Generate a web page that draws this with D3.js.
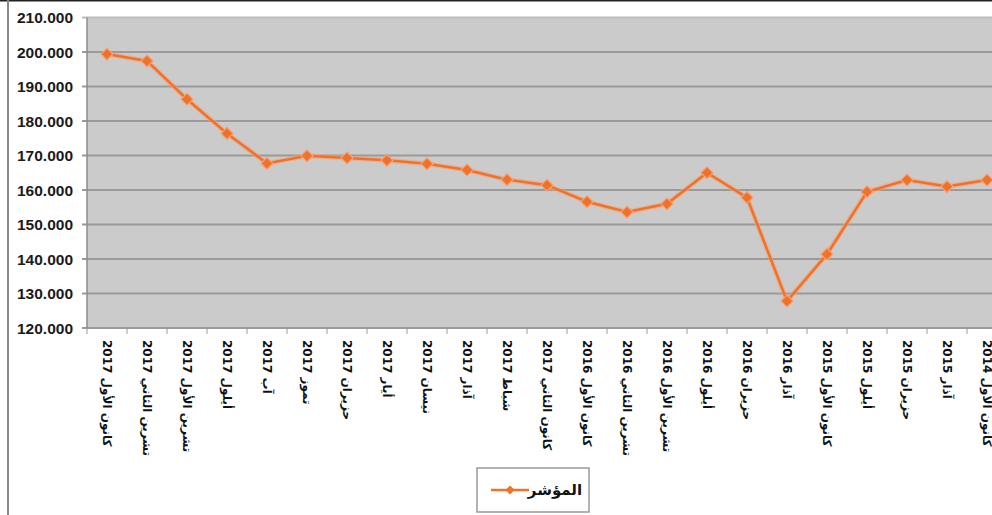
<!DOCTYPE html>
<html>
<head>
<meta charset="utf-8">
<script src="https://cdn.jsdelivr.net/npm/d3@7"></script>
<style>
  body { margin: 0; background: #fff; }
  svg { display: block; }
</style>
</head>
<body>
<svg id="chart" width="992" height="515"></svg>
<script>
// categories, newest first as in the original sheet
const months = [
  "كانون الأول 2017", "تشرين الثاني 2017", "تشرين الأول 2017", "أيلول 2017",
  "آب 2017", "تموز 2017", "حزيران 2017", "أيار 2017", "نيسان 2017",
  "آذار 2017", "شباط 2017", "كانون الثاني 2017", "كانون الأول 2016",
  "تشرين الثاني 2016", "تشرين الأول 2016", "أيلول 2016", "حزيران 2016",
  "آذار 2016", "كانون الأول 2015", "أيلول 2015", "حزيران 2015",
  "آذار 2015", "كانون الأول 2014"
];
const indexValues = [
  199.4, 197.4, 186.3, 176.4, 167.7, 169.9, 169.3, 168.6, 167.6,
  165.8, 163.0, 161.4, 156.6, 153.6, 156.0, 165.0, 157.8,
  127.8, 141.4, 159.5, 162.9, 161.0, 162.9
];
const yTicks = [120, 130, 140, 150, 160, 170, 180, 190, 200, 210];
const seriesName = "المؤشر";

const svg = d3.select("#chart");
const orange = "#f07229";

const x = d3.scaleBand().domain(months).range([87, 87 + months.length * 40]);
const y = d3.scaleLinear().domain([120, 210]).range([328, 17.5]);

// outer frame
svg.append("line").attr("x1", 0).attr("x2", 992).attr("y1", 0.5).attr("y2", 0.5)
  .attr("stroke", "#222").attr("stroke-width", 2);
svg.append("line").attr("x1", 8).attr("x2", 8).attr("y1", 0).attr("y2", 515)
  .attr("stroke", "#888").attr("stroke-width", 2);

// plot area
svg.append("rect")
  .attr("x", 87).attr("y", y(210))
  .attr("width", 992 - 87).attr("height", y(120) - y(210))
  .attr("fill", "#cbcbcb");

svg.append("g").selectAll("line").data(yTicks).join("line")
  .attr("x1", 82).attr("x2", 992)
  .attr("y1", d => y(d)).attr("y2", d => y(d))
  .attr("stroke", d => d === 210 ? "#bdbdbd" : "#9a9a9a").attr("stroke-width", 2);

svg.append("line").attr("x1", 87).attr("x2", 87).attr("y1", y(210)).attr("y2", y(120))
  .attr("stroke", "#8d8d8d").attr("stroke-width", 1.5);

// y axis labels
svg.append("g").selectAll("text").data(yTicks).join("text")
  .attr("x", 73).attr("y", d => y(d)).attr("dy", "0.36em")
  .attr("text-anchor", "end")
  .style("font", "bold 15.5px 'Liberation Sans', Arial, sans-serif")
  .attr("fill", "#1a1a1a")
  .text(d => d + ".000");

// x axis ticks and labels (rotated, reading downward)
const xAxis = d3.axisBottom(x).tickSize(0).tickFormat(d => d);
const gx = svg.append("g").attr("transform", `translate(0,${y(120)})`).call(xAxis);
gx.select(".domain").remove();
gx.selectAll(".tick text")
  .attr("transform", "rotate(90)")
  .attr("x", 12).attr("y", 0).attr("dy", "0.35em")
  .attr("direction", "rtl")
  .attr("text-anchor", "end")
  .style("font", "bold 12px 'DejaVu Sans', 'Liberation Sans', sans-serif")
  .attr("fill", "#111");
svg.append("g").selectAll("line").data(months).join("line")
  .attr("x1", d => x(d)).attr("x2", d => x(d))
  .attr("y1", y(120)).attr("y2", y(120) + 6)
  .attr("stroke", "#9a9a9a").attr("stroke-width", 1);

// line series
const line = d3.line().x((d, i) => x(months[i]) + x.bandwidth() / 2).y(d => y(d));
svg.append("path").datum(indexValues)
  .attr("d", line).attr("fill", "none")
  .attr("stroke", "#f5a27a").attr("stroke-width", 5).attr("opacity", 0.6);
svg.append("path").datum(indexValues)
  .attr("d", line).attr("fill", "none")
  .attr("stroke", orange).attr("stroke-width", 2.5);

// markers: squares turned 45deg
const marker = d3.symbol().type(d3.symbolSquare).size(72);
svg.append("g").selectAll("path").data(indexValues).join("path")
  .attr("d", marker)
  .attr("transform", (d, i) => `translate(${x(months[i]) + x.bandwidth() / 2},${y(d)}) rotate(45)`)
  .attr("fill", orange).attr("stroke", "#f5a27a").attr("stroke-width", 1.2);

// legend
const lg = svg.append("g").attr("transform", "translate(477,468)");
lg.append("rect").attr("width", 112).attr("height", 44)
  .attr("fill", "#fff").attr("stroke", "#999").attr("stroke-width", 1.5);
lg.append("line").attr("x1", 14).attr("x2", 52).attr("y1", 22).attr("y2", 22)
  .attr("stroke", orange).attr("stroke-width", 2.5);
lg.append("path").attr("d", d3.symbol().type(d3.symbolSquare).size(40))
  .attr("transform", "translate(33,22) rotate(45)").attr("fill", orange);
lg.append("text").attr("x", 78).attr("y", 22).attr("dy", "0.35em")
  .attr("text-anchor", "middle")
  .style("font", "bold 15px 'DejaVu Sans', sans-serif")
  .attr("fill", "#111")
  .text(seriesName);
</script>
</body>
</html>
